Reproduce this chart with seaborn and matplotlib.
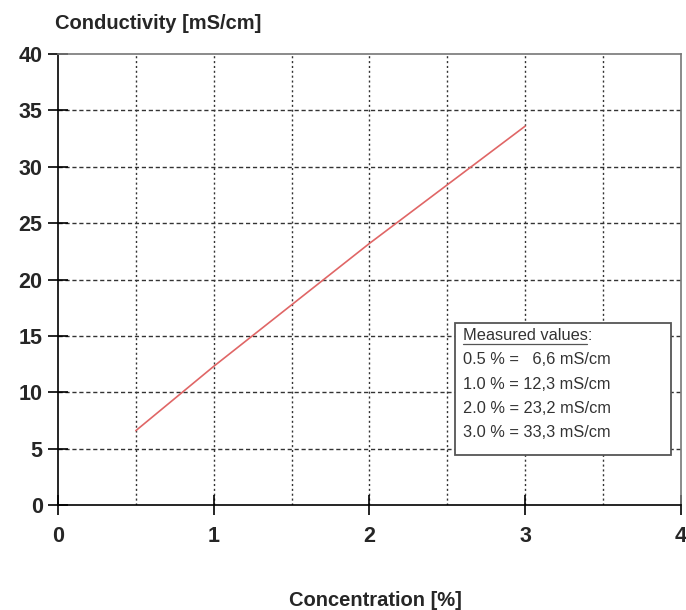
import matplotlib
matplotlib.use("Agg")
import matplotlib.pyplot as plt
import matplotlib.patches as mpatches
import pandas as pd
import seaborn as sns

# data
conc = [0.5, 1.0, 2.0, 3.0]
cond = [6.6, 12.3, 23.2, 33.6]
legend_title = 'Measured values:'
legend_rows = ['0.5 % =   6,6 mS/cm', '1.0 % = 12,3 mS/cm',
               '2.0 % = 23,2 mS/cm', '3.0 % = 33,3 mS/cm']
xticks = [0, 1, 2, 3, 4]
yticks = [0, 5, 10, 15, 20, 25, 30, 35, 40]

sns.set_style('white')
plt.rcParams['font.family'] = ['Liberation Sans', 'DejaVu Sans']

df = pd.DataFrame({'Concentration': conc, 'Conductivity': cond})

fig = plt.figure(figsize=(6.86, 6.10), dpi=100)
ax = fig.add_axes([0.0845, 0.172, 0.908, 0.7395])

sns.lineplot(data=df, x='Concentration', y='Conductivity', ax=ax,
             color='#e06666', linewidth=1.2)

ax.set_xlim(0, 4)
ax.set_ylim(0, 40)
ax.set_xticks(xticks)
ax.set_yticks(yticks)

# grid: dotted verticals, dashed horizontals
for xv in [0.5, 1, 1.5, 2, 2.5, 3, 3.5]:
    ax.axvline(xv, color='#333333', lw=1.0, ls=(0, (1.5, 2)), zorder=0)
for yv in yticks[1:-1]:
    ax.axhline(yv, color='#333333', lw=1.0, ls=(0, (3, 2)), zorder=0)

ax.tick_params(axis='both', which='major', bottom=True, left=True,
               direction='inout', length=14, width=1.2, color='black',
               labelsize=15.5)
ax.tick_params(axis='x', pad=8)
ax.tick_params(axis='y', pad=4)
for lab in ax.get_xticklabels() + ax.get_yticklabels():
    lab.set_fontweight('bold')

for s in ['left', 'bottom']:
    ax.spines[s].set_color('black')
    ax.spines[s].set_linewidth(1.2)
for s in ['top', 'right']:
    ax.spines[s].set_color('#777777')
    ax.spines[s].set_linewidth(1.2)

ax.set_xlabel('')
ax.set_ylabel('')
fig.text(0.08, 0.962, 'Conductivity [mS/cm]', fontsize=14.5, fontweight='bold',
         ha='left', va='center')
fig.text(0.547, 0.016, 'Concentration [%]', fontsize=14.5, fontweight='bold',
         ha='center', va='center')

# measured values box
box = mpatches.Rectangle((0.637, 0.11), 0.347, 0.293, transform=ax.transAxes,
                         facecolor='white', edgecolor='#555555', lw=1.3, zorder=5)
ax.add_patch(box)
ys = [0.375, 0.322, 0.268, 0.215, 0.162]
ax.text(0.650, ys[0], legend_title, transform=ax.transAxes, fontsize=11.8,
        color='#333333', va='center', ha='left', zorder=6)
ax.plot([0.650, 0.850], [ys[0] - 0.017, ys[0] - 0.017], transform=ax.transAxes,
        color='#555555', lw=0.9, zorder=6)
for yy, row in zip(ys[1:], legend_rows):
    ax.text(0.650, yy, row, transform=ax.transAxes, fontsize=11.8,
            color='#333333', va='center', ha='left', zorder=6)

fig.savefig('out.png', dpi=100)
